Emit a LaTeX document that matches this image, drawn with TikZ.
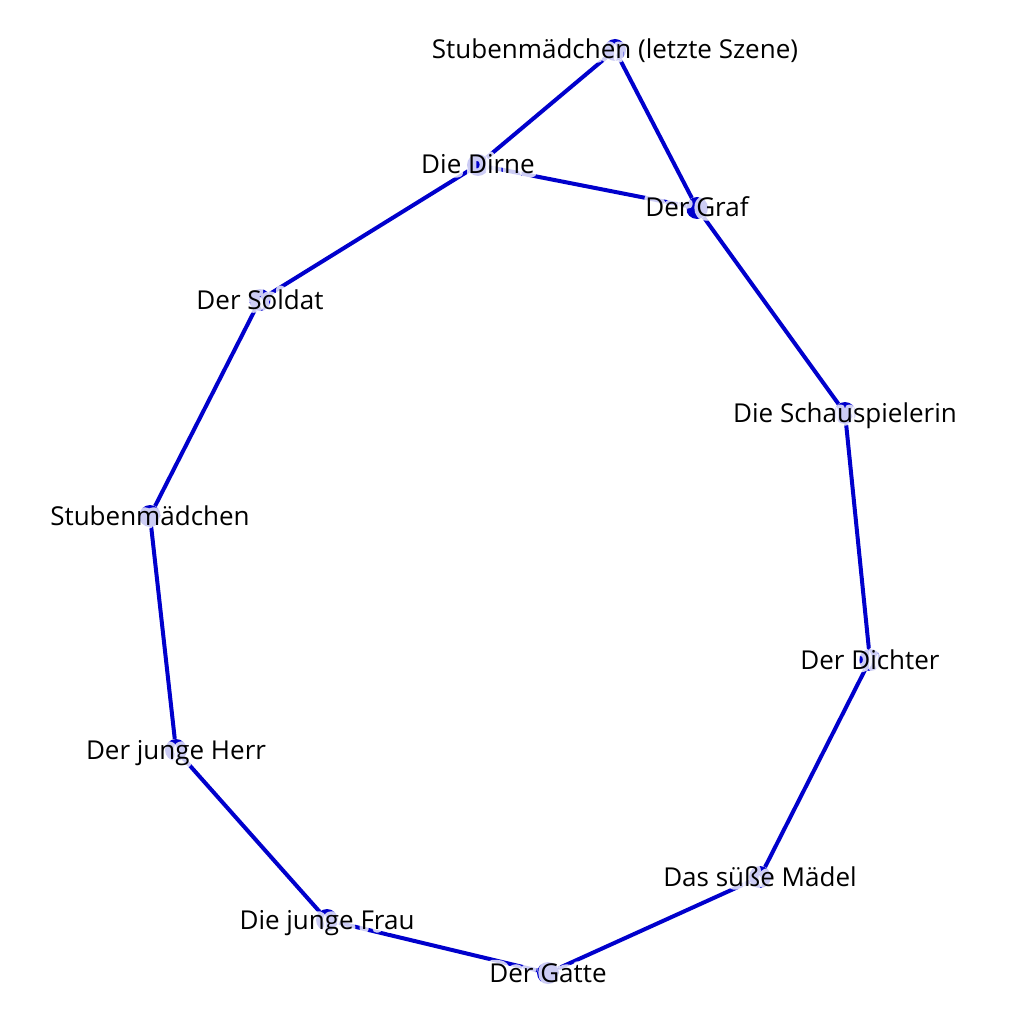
\documentclass[tikz,border=0pt]{standalone}
\usepackage{fontspec}
\setmainfont{Open Sans}
\definecolor{eblue}{RGB}{0,0,204}
\newcommand{\halotext}[1]{\special{pdf:literal direct 1 Tr 1 1 1 RG 7 w 1 j}#1\special{pdf:literal direct 0 Tr}}
\begin{document}
\begin{tikzpicture}[x=1pt,y=-1pt,
  dot/.style={circle,fill=eblue,draw=none,minimum size=22pt,inner sep=0pt},
  lbl/.style={anchor=base,yshift=-9pt,inner sep=0pt,font=\fontsize{26}{30}\selectfont},
  halo/.style={lbl,draw opacity=0.8},
  edge/.style={draw=eblue,line width=4pt}]
\useasboundingbox[fill=white] (0,0) rectangle (1024,1024);
\node[dot] (sl) at (615,50) {};
\node[dot] (di) at (478,165) {};
\node[dot] (gr) at (697,208) {};
\node[dot] (so) at (260,300) {};
\node[dot] (sc) at (845,413) {};
\node[dot] (st) at (150,516) {};
\node[dot] (dc) at (870,660) {};
\node[dot] (he) at (176,750) {};
\node[dot] (ma) at (760,877) {};
\node[dot] (fr) at (327,920) {};
\node[dot] (ga) at (548,973) {};
\draw[edge] (sl) -- (di);
\draw[edge] (sl) -- (gr);
\draw[edge] (di) -- (gr);
\draw[edge] (di) -- (so);
\draw[edge] (so) -- (st);
\draw[edge] (st) -- (he);
\draw[edge] (he) -- (fr);
\draw[edge] (fr) -- (ga);
\draw[edge] (ga) -- (ma);
\draw[edge] (ma) -- (dc);
\draw[edge] (dc) -- (sc);
\draw[edge] (sc) -- (gr);
\begin{scope}[draw opacity=0.8]
\node[halo] (hsl) at (sl) {\halotext{Stubenmädchen (letzte Szene)}};
\node[halo] (hdi) at (di) {\halotext{Die Dirne}};
\node[halo] (hgr) at (gr) {\halotext{Der Graf}};
\node[halo] (hso) at (so) {\halotext{Der Soldat}};
\node[halo] (hsc) at (sc) {\halotext{Die Schauspielerin}};
\node[halo] (hst) at (st) {\halotext{Stubenmädchen}};
\node[halo] (hdc) at (dc) {\halotext{Der Dichter}};
\node[halo] (hhe) at (he) {\halotext{Der junge Herr}};
\node[halo] (hma) at (ma) {\halotext{Das süße Mädel}};
\node[halo] (hfr) at (fr) {\halotext{Die junge Frau}};
\node[halo] (hga) at (ga) {\halotext{Der Gatte}};
\end{scope}
\node[lbl] (lsl) at (sl) {Stubenmädchen (letzte Szene)};
\node[lbl] (ldi) at (di) {Die Dirne};
\node[lbl] (lgr) at (gr) {Der Graf};
\node[lbl] (lso) at (so) {Der Soldat};
\node[lbl] (lsc) at (sc) {Die Schauspielerin};
\node[lbl] (lst) at (st) {Stubenmädchen};
\node[lbl] (ldc) at (dc) {Der Dichter};
\node[lbl] (lhe) at (he) {Der junge Herr};
\node[lbl] (lma) at (ma) {Das süße Mädel};
\node[lbl] (lfr) at (fr) {Die junge Frau};
\node[lbl] (lga) at (ga) {Der Gatte};
\end{tikzpicture}
\end{document}
